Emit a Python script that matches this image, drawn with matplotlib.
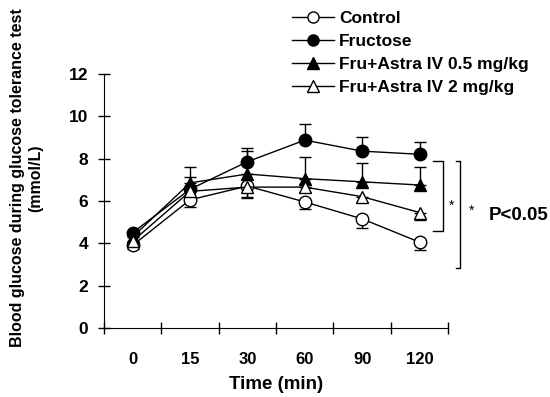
import matplotlib.pyplot as plt
from matplotlib.lines import Line2D
import numpy as np

plt.rcParams['font.family'] = ['Liberation Sans', 'DejaVu Sans']
plt.rcParams['font.weight'] = 'bold'

times = ['0', '15', '30', '60', '90', '120']

control = [3.9, 6.05, 6.7, 5.95, 5.15, 4.05]
control_err = [0.15, 0.35, 0.5, 0.35, 0.45, 0.35]      # drawn downward

fructose = [4.5, 6.55, 7.85, 8.87, 8.35, 8.2]
fructose_err = [0.1, 0.6, 0.65, 0.75, 0.67, 0.57]      # drawn upward

astra05 = [4.3, 6.85, 7.27, 7.05, 6.9, 6.75]
astra05_err = [0.1, 0.75, 1.1, 1.0, 0.9, 0.85]         # upward

astra2 = [4.1, 6.45, 6.65, 6.65, 6.2, 5.45]
astra2_err = [0.1, 0.3, 0.5, 0.25, 0.25, 0.35]         # downward

fig = plt.figure(figsize=(5.5, 3.97), dpi=100)
ax = fig.add_axes([0.189, 0.174, 0.626, 0.64])

x = np.arange(len(times))
zeros = [0] * len(times)

series = [
    (control, [control_err, zeros], 'o', 'white', 'Control'),
    (fructose, [zeros, fructose_err], 'o', 'black', 'Fructose'),
    (astra05, [zeros, astra05_err], '^', 'black', 'Fru+Astra IV 0.5 mg/kg'),
    (astra2, [astra2_err, zeros], '^', 'white', 'Fru+Astra IV 2 mg/kg'),
]
handles = []
for vals, err, mk, fc, lab in series:
    ax.errorbar(x, vals, yerr=err, fmt='-' + mk, color='black', mfc=fc, mec='black',
                ms=9, lw=1.0, elinewidth=1.0, capsize=4, capthick=1.0)
    handles.append(Line2D([], [], color='black', lw=1.0, marker=mk, mfc=fc,
                          mec='black', ms=8, label=lab))

ax.set_xlim(-0.5, 5.5)
ax.set_ylim(0, 12)
ax.set_yticks(range(0, 13, 2))
ax.set_xticks(np.arange(-0.5, 6, 1))
ax.set_xticklabels([])
ax.set_xticks(x, minor=True)
ax.set_xticklabels(times, minor=True)
ax.tick_params(axis='both', which='major', direction='inout', length=9, width=1, labelsize=12.5)
ax.tick_params(axis='y', pad=7)
ax.tick_params(axis='x', which='minor', length=0, pad=17, labelsize=12)
for lbl in ax.get_xticklabels(minor=True) + ax.get_yticklabels():
    lbl.set_fontweight('bold')
ax.spines['top'].set_visible(False)
ax.spines['right'].set_visible(False)

ax.set_xlabel('Time (min)', fontsize=13.5, fontweight='bold', labelpad=7)
fig.text(0.048, 0.552, 'Blood glucose during glucose tolerance test\n(mmol/L)',
         rotation=90, ha='center', va='center', fontsize=11.5, fontweight='bold',
         linespacing=1.25)

# significance brackets
ax.plot([5.24, 5.41, 5.41, 5.24], [7.87, 7.87, 4.58, 4.58], color='black', lw=1, clip_on=False)
ax.plot([5.64, 5.71, 5.71, 5.64], [7.87, 7.87, 2.85, 2.85], color='black', lw=1, clip_on=False)
ax.text(5.55, 5.75, '*', ha='center', va='center', fontsize=10, fontweight='normal', clip_on=False)
ax.text(5.9, 5.55, '*', ha='center', va='center', fontsize=10, fontweight='normal', clip_on=False)
ax.text(6.21, 5.3, 'P<0.05', ha='left', va='center', fontsize=13.5, fontweight='bold', clip_on=False)

leg = fig.legend(handles=handles, loc='upper left', bbox_to_anchor=(0.515, 0.995), frameon=False,
                 fontsize=12.5, handlelength=2.4, handletextpad=0.3, labelspacing=0.45,
                 borderaxespad=0.2, borderpad=0.3)
for t in leg.get_texts():
    t.set_fontweight('bold')

fig.savefig('out.png', dpi=100)
